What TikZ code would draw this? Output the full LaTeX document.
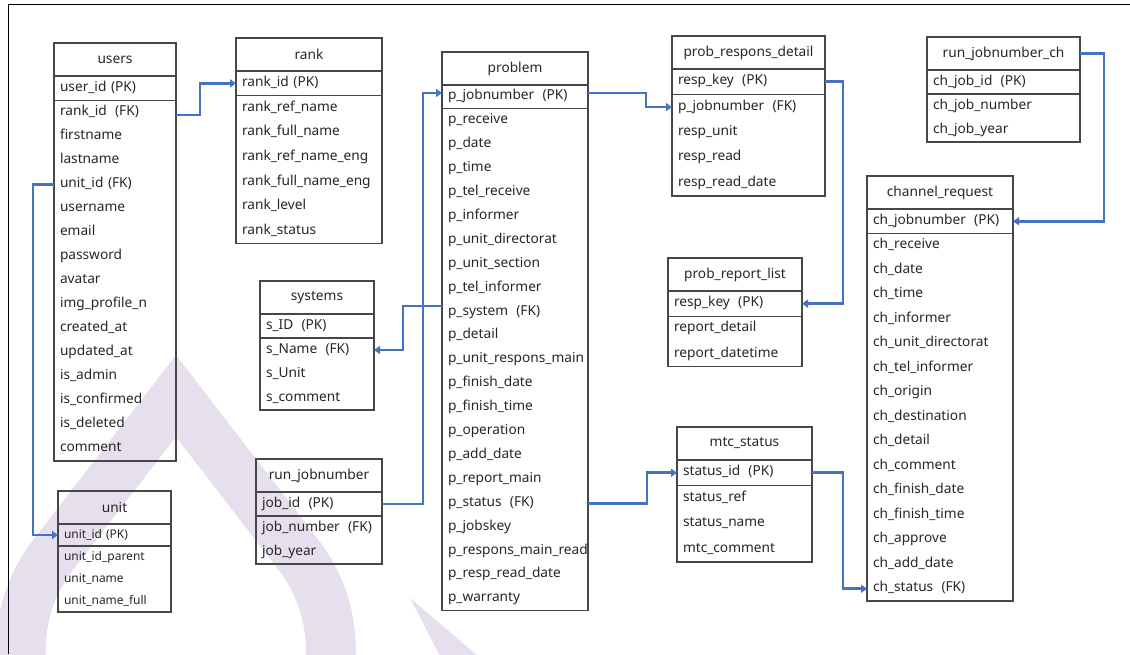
\documentclass[tikz,border=0pt]{standalone}
\usepackage{fontspec}
\setmainfont{Noto Sans}
\usetikzlibrary{arrows.meta}
\definecolor{fk}{HTML}{4472C4}
\definecolor{wm}{HTML}{E6E0EE}
\definecolor{ink}{HTML}{262626}
\def\erfont{\fontsize{13.7}{15}\selectfont}
\newcommand\kgap{\hskip 0.6em\relax}
\tikzset{
  ttl/.style={inner sep=0pt, outer sep=0pt, minimum height=33pt, font=\erfont, text=ink},
  fld/.style={inner xsep=6pt, inner ysep=0pt, outer sep=0pt, align=left,
              text height=9pt, text depth=3pt, font=\erfont, text=ink},
  tblline/.style={draw=black!72, line width=1.1pt},
  conn/.style={draw=fk, line width=2.6pt, -{Triangle[length=6pt,width=8pt]}},
  frame/.style={draw=black, line width=1pt},
  logo/.style={draw=wm, line width=50pt, line join=miter},
}
% \ertab{id}{left}{top}{width}{row height}{title}{pk id}{pk text}{id/text list}
\newcommand\ertab[9]{%
  \pgfmathsetmacro\ertw{#4-12}
  \node[ttl, minimum width=#4pt, anchor=north west] (#1-t) at (#2,#3) {#6};
  \node[fld, text width=\ertw pt, minimum height=#5pt, anchor=north west]
    (#1-#7) at (#1-t.south west) {#8};
  \coordinate (#1-end) at (#1-#7.south west);
  \foreach \k/\v in {#9}{%
    \node[fld, text width=\ertw pt, minimum height=#5pt, anchor=north west]
      (#1-\k) at (#1-end) {\v};
    \coordinate (#1-end) at (#1-\k.south west);
  }
  \draw[tblline] (#1-t.north west) rectangle ([xshift=#4pt]#1-end);
  \draw[tblline] (#1-t.south west) -- (#1-t.south east);
  \draw[tblline] (#1-#7.south west) -- (#1-#7.south east);
}
\begin{document}
\begin{tikzpicture}[x=1pt, y=-1pt]
\useasboundingbox (0,0) rectangle (1130,654);

% faint logo in the background: a drop outline and a short stroke
\draw[logo] (176,396) -- (53,555) arc[start angle=217.6, end angle=-37.6, radius=155] -- cycle;
\fill[wm] (410,598) -- (478,656) -- (440,656) -- cycle;

% page frame
\draw[frame] (1130,4) -- (8,4) -- (8,654);

\ertab{users}{54}{43}{122}{24.06}{users}{uid}{user\_id (PK)}{rank/rank\_id\kgap(FK),
  first/firstname, last/lastname, unit/unit\_id (FK), uname/username, email/email,
  pw/password, avatar/avatar, img/img\_profile\_n, created/created\_at,
  updated/updated\_at, admin/is\_admin, conf/is\_confirmed, del/is\_deleted,
  comment/comment}

\ertab{rank}{236}{38}{146}{24.7}{rank}{pk}{rank\_id (PK)}{ref/rank\_ref\_name,
  full/rank\_full\_name, refeng/rank\_ref\_name\_eng, fulleng/rank\_full\_name\_eng,
  level/rank\_level, status/rank\_status}

\ertab{sys}{260}{281}{114}{24}{systems}{pk}{s\_ID\kgap(PK)}{name/s\_Name\kgap(FK),
  unit/s\_Unit, comment/s\_comment}

\ertab{rj}{256}{459}{126}{24}{run\_jobnumber}{pk}{job\_id\kgap(PK)}{num/job\_number\kgap(FK),
  year/job\_year}

\def\erfont{\fontsize{12}{14}\selectfont}
\ertab{unit}{58}{491}{113}{22}{\fontsize{13.7}{15}\selectfont unit}{pk}{unit\_id (PK)}{parent/unit\_id\_parent,
  name/unit\_name, full/unit\_name\_full}
\def\erfont{\fontsize{13.7}{15}\selectfont}

\ertab{prob}{442}{52}{146}{23.9}{problem}{pk}{p\_jobnumber\kgap(PK)}{receive/p\_receive,
  date/p\_date, time/p\_time, telr/p\_tel\_receive, inf/p\_informer,
  dir/p\_unit\_directorat, sec/p\_unit\_section, teli/p\_tel\_informer,
  system/p\_system\kgap(FK), detail/p\_detail, resp/p\_unit\_respons\_main,
  fdate/p\_finish\_date, ftime/p\_finish\_time, op/p\_operation, add/p\_add\_date,
  report/p\_report\_main, status/p\_status\kgap(FK), jobskey/p\_jobskey,
  rread/p\_respons\_main\_read, rdate/p\_resp\_read\_date, warranty/p\_warranty}

\ertab{prd}{672}{36}{153}{25.4}{prob\_respons\_detail}{pk}{resp\_key\kgap(PK)}{job/p\_jobnumber\kgap(FK),
  unit/resp\_unit, read/resp\_read, rdate/resp\_read\_date}

\ertab{prl}{668}{258}{134}{25.3}{prob\_report\_list}{pk}{resp\_key\kgap(PK)}{detail/report\_detail,
  dt/report\_datetime}

\ertab{rjc}{927}{37}{153}{24}{run\_jobnumber\_ch}{pk}{ch\_job\_id\kgap(PK)}{num/ch\_job\_number,
  year/ch\_job\_year}

\ertab{ch}{867}{176}{146}{24.5}{channel\_request}{pk}{ch\_jobnumber\kgap(PK)}{receive/ch\_receive,
  date/ch\_date, time/ch\_time, inf/ch\_informer, dir/ch\_unit\_directorat,
  teli/ch\_tel\_informer, origin/ch\_origin, dest/ch\_destination, detail/ch\_detail,
  comment/ch\_comment, fdate/ch\_finish\_date, ftime/ch\_finish\_time,
  approve/ch\_approve, add/ch\_add\_date, status/ch\_status\kgap(FK)}

\ertab{mtc}{677}{427}{135}{25.5}{mtc\_status}{pk}{status\_id\kgap(PK)}{ref/status\_ref,
  name/status\_name, comment/mtc\_comment}

% foreign-key connectors
\draw[conn] ([yshift=-3pt]users-rank.east) -- ++(24,0) |- (rank-pk.west);
\draw[conn] (users-unit.west) -- ++(-21,0) |- (unit-pk.west);
\draw[conn] (rj-pk.east) -- ++(41,0) |- ([yshift=4pt]prob-pk.west);
\draw[conn] ([yshift=6pt]prob-system.west) -- ++(-39,0) |- (sys-name.east);
\draw[conn] ([yshift=4pt]prob-pk.east) -- ++(58,0) |- (prd-job.west);
\draw[conn] (prd-pk.east) -- ++(18,0) |- (prl-pk.east);
\draw[conn] (rjc-t.east) -- ++(24,0) |- (ch-pk.east);
\draw[conn] (prob-status.east) -- ++(59,0) |- (mtc-pk.west);
\draw[conn] (mtc-pk.east) -- ++(31,0) |- (ch-status.west);
\end{tikzpicture}
\end{document}
